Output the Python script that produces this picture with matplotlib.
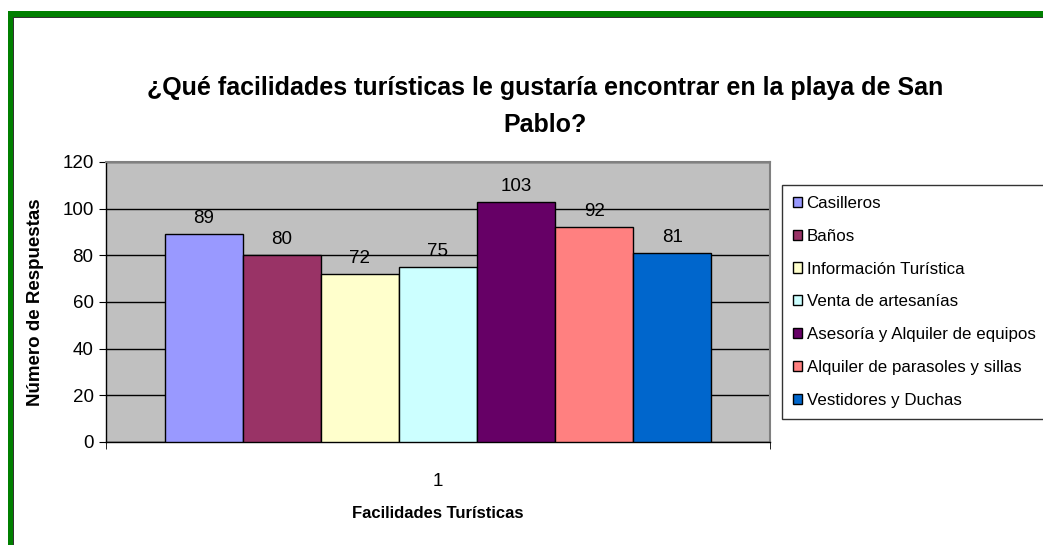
import matplotlib.pyplot as plt
from matplotlib.patches import Rectangle

W, H = 1043, 545

categories = [
    "Casilleros",
    "Baños",
    "Información Turística",
    "Venta de artesanías",
    "Asesoría y Alquiler de equipos",
    "Alquiler de parasoles y sillas",
    "Vestidores y Duchas",
]
values = [89, 80, 72, 75, 103, 92, 81]
colors = ["#9999FF", "#993366", "#FFFFCC", "#CCFFFF", "#660066", "#FF8080", "#0066CC"]
y_ticks = [0, 20, 40, 60, 80, 100, 120]
x_tick_label = "1"

plt.rcParams["font.family"] = ["Liberation Sans", "DejaVu Sans"]


def px(x0, y0, x1, y1):
    # pixel box (top-left origin) -> figure fraction rect
    return [x0 / W, 1 - y1 / H, (x1 - x0) / W, (y1 - y0) / H]


fig = plt.figure(figsize=(W / 100, H / 100), dpi=100)
fig.patch.set_facecolor("white")

# green frame (left and top only, rest is cut off)
fig.patches.append(Rectangle((8 / W, 0), 5 / W, 1 - 11 / H, transform=fig.transFigure,
                             facecolor="#007F00", edgecolor="none"))
fig.patches.append(Rectangle((8 / W, 1 - 17 / H), 1 - 8 / W, 6 / H, transform=fig.transFigure,
                             facecolor="#007F00", edgecolor="none"))
fig.patches.append(Rectangle((13 / W, 0), 1.2 / W, 1 - 17 / H, transform=fig.transFigure,
                             facecolor="#333333", edgecolor="none"))
fig.patches.append(Rectangle((13 / W, 1 - 18.2 / H), 1, 1.2 / H, transform=fig.transFigure,
                             facecolor="#333333", edgecolor="none"))

ax = fig.add_axes(px(106, 162, 770, 442))
ax.set_facecolor("#C0C0C0")

n = len(values)
positions = [i - (n - 1) / 2 for i in range(n)]
bars = ax.bar(positions, values, width=1.0, color=colors, edgecolor="black",
              linewidth=1.0, label=categories, zorder=3)

for xpos, v in zip(positions, values):
    ax.text(xpos, v + 3, str(v), ha="center", va="bottom", fontsize=13.5, zorder=4)

ax.set_xlim(-n / 2 - 0.75, n / 2 + 0.75)
ax.set_ylim(0, 120)
ax.set_yticks(y_ticks)
ax.set_yticklabels([str(t) for t in y_ticks], fontsize=13.5)
ax.set_xticks([0])
ax.set_xticklabels([x_tick_label], fontsize=13.5)
ax.tick_params(axis="x", length=0, pad=22)
ax.set_xticks([-n / 2 - 0.75, n / 2 + 0.75], minor=True)
ax.tick_params(axis="x", which="minor", length=5, direction="out", color="black")
ax.tick_params(axis="y", length=5, direction="out", color="black", pad=4)

ax.yaxis.grid(True, color="black", linewidth=1.0, zorder=1)
ax.set_axisbelow(True)
for side in ["left", "bottom"]:
    ax.spines[side].set_color("black")
    ax.spines[side].set_linewidth(1.0)
for side in ["top", "right"]:
    ax.spines[side].set_color("#808080")
    ax.spines[side].set_linewidth(1.5)

ax.set_xlabel("Facilidades Turísticas", fontsize=12, fontweight="bold", labelpad=12)
ax.set_ylabel("Número de Respuestas", fontsize=13.5, fontweight="bold", labelpad=13)

fig.text(545 / W, 1 - 88 / H, "¿Qué facilidades turísticas le gustaría encontrar en la playa de San",
         ha="center", va="center", fontsize=18, fontweight="bold")
fig.text(545 / W, 1 - 125 / H, "Pablo?", ha="center", va="center", fontsize=18,
         fontweight="bold")

leg = ax.legend(handles=bars, labels=categories, loc="upper left",
                bbox_to_anchor=(782 / W, 1 - 185 / H), bbox_transform=fig.transFigure,
                fontsize=12.2, frameon=True, fancybox=False, edgecolor="black",
                handlelength=0.55, handleheight=0.55, handletextpad=0.25,
                labelspacing=1.05, borderpad=0.65, borderaxespad=0)
leg.get_frame().set_linewidth(1.0)

fig.savefig("out.png", dpi=100)
